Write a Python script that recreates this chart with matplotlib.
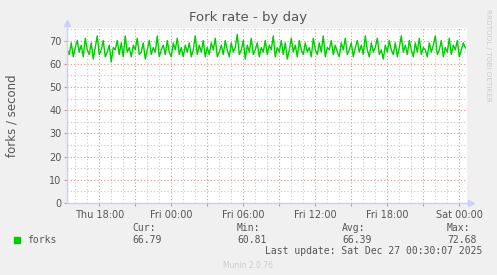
import numpy as np
import matplotlib
matplotlib.use("Agg")
import matplotlib.pyplot as plt

# forks per second, 10 minute samples, Thu ~15:20 -> Sat 00:30
forks = [
    66, 64, 69, 63, 67, 70, 65, 68, 63, 71, 66, 64, 69, 62, 67, 72, 64, 66, 70, 63,
    65, 68, 60.81, 67, 66, 70, 64, 69, 63, 72, 65, 67, 63, 68, 66, 71, 64, 65, 69, 62,
    66, 70, 64, 67, 65, 72, 63, 66, 68, 64, 70, 65, 63, 69, 66, 71, 64, 67, 63, 68,
    65, 69, 63, 66, 72, 64, 68, 65, 70, 63, 67, 64, 69, 66, 71, 63, 65, 68, 64, 70,
    66, 63, 69, 65, 67, 72.68, 64, 66, 70, 62, 68, 65, 71, 64, 66, 69, 63, 67, 65, 70,
    64, 68, 66, 72, 63, 67, 65, 70, 64, 69, 62, 66, 71, 65, 68, 63, 70, 66, 64, 69,
    65, 67, 63, 71, 66, 64, 69, 65, 72, 63, 67, 66, 70, 64, 68, 65, 63, 69, 66, 71,
    64, 66, 69, 63, 67, 70, 65, 68, 64, 72, 66, 63, 69, 65, 67, 71, 64, 66, 62, 68,
    65, 70, 66, 64, 69, 63, 67, 72, 65, 68, 64, 70, 66, 63, 69, 65, 71, 64, 67, 66,
    63, 69, 65, 68, 72, 64, 66, 70, 63, 67, 65, 71, 64, 68, 66, 70, 63, 66, 69, 66.79,
]
start_hour = 15.33  # hours after Thu 00:00
end_hour = 48.5

tick_hours = [18, 24, 30, 36, 42, 48]
tick_labels = ["Thu 18:00", "Fri 00:00", "Fri 06:00", "Fri 12:00", "Fri 18:00", "Sat 00:00"]

legend_stats = [("Cur:", "66.79"), ("Min:", "60.81"), ("Avg:", "66.39"), ("Max:", "72.68")]

hours = np.linspace(start_hour, end_hour, len(forks))

W, H = 497, 275
fig = plt.figure(figsize=(W / 100, H / 100), dpi=100, facecolor="#f0f0f0")
ax = fig.add_axes([67 / W, 72 / H, 400 / W, 175 / H])
ax.set_facecolor("white")

ax.plot(hours, forks, color="#00cc00", linewidth=1.0)

ax.set_xlim(15.31, 48.64)
ax.set_ylim(0, 75.4)

# grid: minor grey dotted, major red dotted
ax.set_xticks(np.arange(18, 49, 3))
ax.set_xticklabels([tick_labels[tick_hours.index(h)] if h in tick_hours else "" for h in range(18, 49, 3)])
ax.set_xticks(np.arange(16, 49, 1), minor=True)
ax.set_yticks(np.arange(0, 71, 10))
ax.set_yticks(np.arange(5, 76, 10), minor=True)
ax.grid(which="minor", color="#c8c8c8", linestyle=(0, (1, 2)), linewidth=0.8)
ax.grid(which="major", color="#e09090", linestyle=(0, (1, 2)), linewidth=0.8)
ax.set_axisbelow(True)

for s in ["top", "right"]:
    ax.spines[s].set_visible(False)
for s in ["left", "bottom"]:
    ax.spines[s].set_color("#ccccff")
    ax.spines[s].set_linewidth(1.0)
ax.plot([0], [1.03], marker="^", color="#ccccff", markersize=4, transform=ax.transAxes, clip_on=False)
ax.plot([1.01], [0], marker=">", color="#ccccff", markersize=4, transform=ax.transAxes, clip_on=False)

ax.tick_params(axis="both", which="major", colors="#e09090", length=2, width=0.8,
               labelcolor="#555555", labelsize=7)
ax.tick_params(axis="both", which="minor", length=0)
ax.tick_params(axis="x", pad=3)
ax.tick_params(axis="y", pad=2)

fig.text(248 / W, 1 - 18 / H, "Fork rate - by day", ha="center", va="center",
         fontsize=9.5, color="#555555")
fig.text(12 / W, 1 - 116 / H, "forks / second", ha="center", va="center",
         rotation=90, fontsize=8.5, color="#555555")
fig.text(488 / W, 1 - 55 / H, "RRDTOOL / TOBI OETIKER", ha="center", va="center",
         rotation=270, fontsize=5.2, color="#cccccc")

mono = "DejaVu Sans Mono"
fig.patches.append(plt.Rectangle((14 / W, 1 - 243 / H), 6 / W, 6 / H, transform=fig.transFigure,
                                 color="#00cc00"))
fig.text(27 / W, 1 - 240 / H, "forks", ha="left", va="center", family=mono, fontsize=7, color="#555555")
for xpos, (name, val) in zip([132, 237, 342, 447], legend_stats):
    fig.text(xpos / W, 1 - 228 / H, name, ha="left", va="center", family=mono, fontsize=7, color="#555555")
    fig.text(xpos / W, 1 - 240 / H, val, ha="left", va="center", family=mono, fontsize=7, color="#555555")
fig.text(482 / W, 1 - 251 / H, "Last update: Sat Dec 27 00:30:07 2025", ha="right", va="center",
         family=mono, fontsize=7, color="#555555")
fig.text(248 / W, 1 - 265 / H, "Munin 2.0.76", ha="center", va="center", fontsize=5.5, color="#cccccc")

fig.savefig("out.png", dpi=100, facecolor=fig.get_facecolor())
